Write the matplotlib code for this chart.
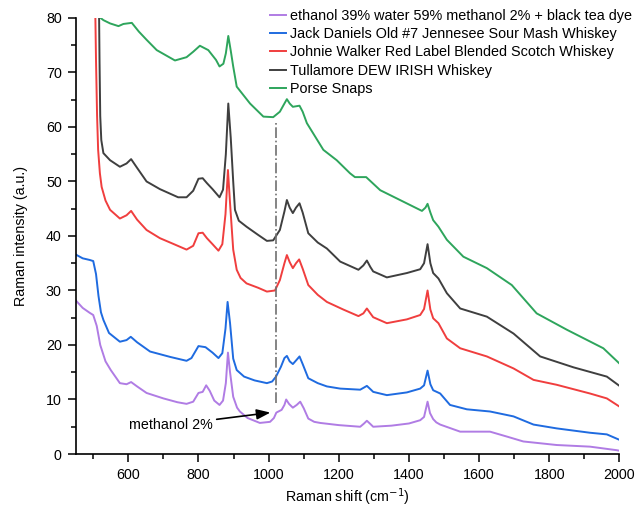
import matplotlib
matplotlib.use("Agg")
import matplotlib.pyplot as plt
from matplotlib.ticker import MultipleLocator

plt.rcParams['font.family'] = ['Liberation Sans', 'DejaVu Sans']
plt.rcParams['font.size'] = 10

labels = [
    "ethanol 39% water 59% methanol 2% + black tea dye",
    "Jack Daniels Old #7 Jennesee Sour Mash Whiskey",
    "Johnie Walker Red Label Blended Scotch Whiskey",
    "Tullamore DEW IRISH Whiskey",
    "Porse Snaps",
]
colors = ['#B07CE4', '#1F6BE0', '#F03E3E', '#3F3F3F', '#2EA55C']

x_purple = [450, 470, 490, 500, 510, 520, 535, 550, 576, 595, 608, 625, 652, 700, 740, 766, 785, 800, 812, 822, 832, 845, 860, 870, 878, 884, 890, 899, 910, 918, 940, 975, 1004, 1015, 1022, 1037, 1045, 1050, 1058, 1069, 1080, 1090, 1100, 1113, 1130, 1147, 1200, 1261, 1272, 1280, 1290, 1298, 1350, 1400, 1432, 1443, 1453, 1460, 1469, 1478, 1489, 1546, 1631, 1679, 1726, 1821, 1916, 1992, 2000]
y_purple = [28.2, 26.8, 25.9, 25.5, 23.5, 20.0, 17.0, 15.4, 13.0, 12.8, 13.2, 12.4, 11.2, 10.2, 9.5, 9.2, 9.6, 11.2, 11.4, 12.6, 11.6, 9.8, 9.0, 9.8, 13.0, 18.6, 15.0, 10.5, 8.5, 7.8, 6.6, 5.7, 5.9, 6.6, 7.6, 8.1, 9.0, 10.0, 9.2, 8.5, 9.0, 9.6, 8.4, 6.5, 5.9, 5.7, 5.3, 5.0, 5.6, 6.1, 5.5, 5.0, 5.2, 5.6, 6.2, 6.8, 9.6, 7.5, 6.4, 5.8, 5.4, 4.1, 4.1, 3.2, 2.3, 1.65, 1.35, 0.7, 0.6]

x_blue = [450, 470, 490, 500, 508, 515, 522, 529, 545, 576, 595, 607, 625, 662, 720, 766, 780, 800, 820, 840, 857, 868, 877, 883, 890, 899, 909, 930, 960, 995, 1010, 1021, 1035, 1045, 1052, 1060, 1069, 1080, 1088, 1097, 1113, 1140, 1166, 1204, 1261, 1272, 1280, 1290, 1298, 1337, 1394, 1432, 1443, 1453, 1461, 1469, 1489, 1517, 1565, 1631, 1698, 1755, 1821, 1916, 1964, 2000]
y_blue = [36.6, 35.9, 35.6, 35.4, 33.0, 29.0, 26.0, 24.6, 22.2, 20.6, 20.9, 21.5, 20.5, 18.8, 17.8, 17.1, 17.6, 19.8, 19.6, 18.6, 17.6, 18.5, 23.0, 27.9, 24.0, 17.5, 15.4, 14.2, 13.5, 13.0, 13.3, 14.2, 16.0, 17.6, 18.0, 17.0, 16.5, 17.3, 17.9, 16.5, 13.9, 13.0, 12.4, 12.0, 11.8, 12.2, 12.5, 11.9, 11.4, 10.8, 11.3, 12.0, 12.6, 15.3, 12.8, 11.7, 11.1, 9.0, 8.2, 7.8, 6.9, 5.4, 4.7, 3.9, 3.6, 2.6]

x_red = [505, 508, 511, 514, 519, 524, 535, 548, 576, 595, 608, 625, 652, 690, 730, 766, 785, 800, 812, 824, 840, 857, 868, 877, 884, 890, 899, 909, 920, 937, 970, 995, 1018, 1032, 1045, 1052, 1060, 1069, 1078, 1087, 1097, 1113, 1140, 1166, 1213, 1256, 1270, 1280, 1290, 1298, 1337, 1394, 1432, 1443, 1453, 1461, 1469, 1484, 1508, 1546, 1622, 1698, 1755, 1821, 1916, 1964, 2000]
y_red = [85, 72, 62, 55.8, 51.5, 49.0, 46.5, 44.8, 43.2, 43.8, 44.6, 43.0, 41.1, 39.6, 38.5, 37.5, 38.2, 40.5, 40.6, 39.6, 38.5, 37.3, 38.5, 44.0, 52.1, 46.0, 37.5, 33.8, 32.3, 31.3, 30.5, 29.8, 30.0, 31.9, 35.0, 36.5, 35.2, 34.1, 35.0, 35.7, 34.0, 31.0, 29.2, 27.9, 26.5, 25.3, 25.8, 26.7, 25.8, 25.1, 24.0, 24.7, 25.5, 26.6, 30.0, 26.5, 24.9, 24.0, 21.2, 19.4, 17.9, 15.7, 13.6, 12.7, 11.1, 10.2, 8.7]

x_black = [516, 518, 520, 523, 529, 548, 576, 595, 608, 625, 652, 690, 742, 766, 785, 800, 812, 824, 840, 860, 870, 878, 885, 892, 899, 904, 915, 937, 970, 995, 1013, 1032, 1045, 1052, 1060, 1069, 1078, 1088, 1097, 1113, 1140, 1166, 1204, 1256, 1270, 1280, 1290, 1298, 1337, 1394, 1432, 1443, 1453, 1461, 1469, 1484, 1508, 1546, 1622, 1698, 1774, 1869, 1964, 2000]
y_black = [85, 72, 62, 57.6, 55.2, 53.9, 52.7, 53.3, 54.1, 52.5, 50.0, 48.6, 47.1, 47.1, 48.3, 50.5, 50.6, 49.7, 48.6, 47.1, 48.5, 55.0, 64.3, 58.0, 50.0, 44.8, 42.8, 41.7, 40.2, 39.1, 39.2, 41.1, 44.5, 46.6, 45.2, 44.2, 45.2, 46.0, 44.3, 40.5, 38.8, 37.7, 35.3, 33.8, 34.6, 35.5, 34.3, 33.5, 32.4, 33.2, 33.9, 35.0, 38.5, 35.0, 33.2, 32.2, 29.5, 26.7, 25.2, 22.1, 17.9, 15.9, 14.2, 12.5]

x_green = [519, 521, 529, 548, 572, 586, 610, 630, 652, 681, 733, 766, 785, 804, 828, 850, 860, 871, 878, 885, 892, 899, 909, 947, 985, 1013, 1032, 1045, 1052, 1060, 1069, 1088, 1097, 1109, 1156, 1194, 1232, 1246, 1278, 1318, 1365, 1437, 1447, 1453, 1461, 1469, 1484, 1508, 1555, 1622, 1693, 1764, 1850, 1954, 2000]
y_green = [82, 80, 79.6, 79.0, 78.5, 78.9, 79.1, 77.5, 76.0, 74.1, 72.2, 72.8, 73.8, 74.9, 74.1, 72.3, 71.1, 71.6, 73.5, 76.7, 74.0, 71.1, 67.4, 64.3, 61.9, 61.8, 62.8, 64.3, 65.1, 64.3, 63.7, 63.9, 62.8, 60.7, 55.8, 53.9, 51.5, 50.8, 50.8, 48.4, 46.9, 44.6, 45.2, 45.9, 44.3, 42.9, 41.7, 39.3, 36.2, 34.1, 31.0, 25.8, 22.8, 19.4, 16.6]

series_x = [x_purple, x_blue, x_red, x_black, x_green]
series_y = [y_purple, y_blue, y_red, y_black, y_green]

marker_line_x = 1020
marker_line_y = [9.4, 61.0]
annot_text = "methanol 2%"
annot_xy = (1005, 7.6)
annot_text_xy = (840, 5.3)

fig = plt.figure(figsize=(6.36, 5.13), dpi=100)
ax = fig.add_axes([0.119, 0.115, 0.855, 0.85])

for xs, ys, c, lab in zip(series_x, series_y, colors, labels):
    ax.plot(xs, ys, color=c, lw=1.4, label=lab)

ax.plot([marker_line_x, marker_line_x], marker_line_y, color='#707070', lw=1.2, ls='-.')

ax.annotate(annot_text, xy=annot_xy, xytext=annot_text_xy, ha='right', va='center',
            fontsize=10.3,
            arrowprops=dict(arrowstyle='-|>,head_length=0.8,head_width=0.3', color='black', lw=1.2,
                            shrinkA=1, shrinkB=0))

ax.set_xlim(450, 2000)
ax.set_ylim(0, 80)
ax.xaxis.set_major_locator(MultipleLocator(200))
ax.xaxis.set_minor_locator(MultipleLocator(100))
ax.yaxis.set_major_locator(MultipleLocator(10))
ax.yaxis.set_minor_locator(MultipleLocator(5))
ax.set_xticks([600, 800, 1000, 1200, 1400, 1600, 1800, 2000])
ax.tick_params(which='major', direction='out', length=6, width=1.1, pad=4, labelsize=10.3)
ax.tick_params(which='minor', direction='out', length=3.5, width=1.1)
for s in ['top', 'right']:
    ax.spines[s].set_visible(False)
for s in ['left', 'bottom']:
    ax.spines[s].set_linewidth(1.2)

ax.set_xlabel("Raman shift (cm$^{-1}$)", fontsize=10.3, labelpad=3)
ax.set_ylabel("Raman intensity (a.u.)", fontsize=10.3, labelpad=13)

leg = ax.legend(loc='upper left', bbox_to_anchor=(270/636, 1 - 9/513), bbox_transform=fig.transFigure,
                frameon=False, fontsize=10.4, handlelength=1.1, handletextpad=0.3,
                labelspacing=0.29, borderpad=0, borderaxespad=0)

fig.savefig("out.png", dpi=100)
